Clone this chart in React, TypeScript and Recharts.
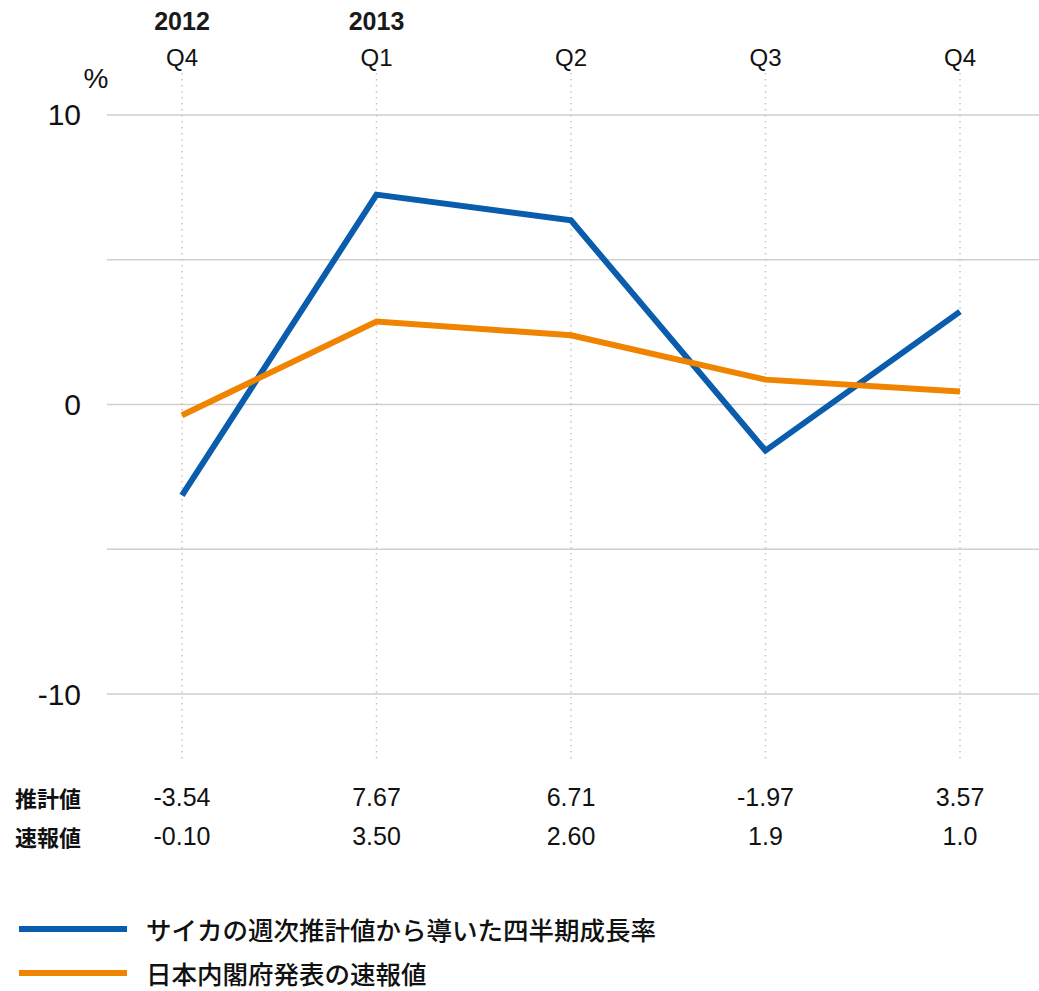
import { LineChart, Line, XAxis, YAxis, ReferenceLine, Legend } from 'recharts'

const periods = ['2012Q4', '2013Q1', '2013Q2', '2013Q3', '2013Q4']
const years = ['2012', '2013', '', '', '']
const quarters = ['Q4', 'Q1', 'Q2', 'Q3', 'Q4']

// values as plotted on the chart (%)
const saikaWeekly = [-3.14, 7.25, 6.36, -1.59, 3.21]
const cabinetPrelim = [-0.37, 2.87, 2.39, 0.86, 0.45]

// values printed in the table under the chart
const estimateLabels = ['-3.54', '7.67', '6.71', '-1.97', '3.57']
const prelimLabels = ['-0.10', '3.50', '2.60', '1.9', '1.0']

const yTicks = [-10, -5, 0, 5, 10]

const BLUE = '#0a5cad'
const ORANGE = '#f08300'
const FONT = '"Liberation Sans", Arial, "Noto Sans CJK JP", sans-serif'
const JP_FONT = '"Noto Sans CJK JP", "Liberation Sans", sans-serif'

const data = periods.map((p, i) => ({
  period: p,
  saika: saikaWeekly[i],
  cabinet: cabinetPrelim[i],
}))

const seriesNames = [
  { name: 'サイカの週次推計値から導いた四半期成長率', color: BLUE },
  { name: '日本内閣府発表の速報値', color: ORANGE },
]

function TopTick({ x, y, index }: any) {
  return (
    <g>
      <text x={x} y={y - 52} textAnchor="middle" dominantBaseline="central" fontSize={25} fontWeight={700} fill="#1a1a1a" fontFamily={FONT}>
        {years[index]}
      </text>
      <text x={x} y={y - 16} textAnchor="middle" dominantBaseline="central" fontSize={24} fill="#111" fontFamily={FONT}>
        {quarters[index]}
      </text>
    </g>
  )
}

function TableTick({ x, y, index }: any) {
  return (
    <g>
      {index === 0 && (
        <>
          <text x={15} y={y + 34} dominantBaseline="central" fontSize={22} fontWeight={700} fill="#111" fontFamily={JP_FONT}>推計値</text>
          <text x={15} y={y + 73} dominantBaseline="central" fontSize={22} fontWeight={700} fill="#111" fontFamily={JP_FONT}>速報値</text>
        </>
      )}
      <text x={x} y={y + 34} textAnchor="middle" dominantBaseline="central" fontSize={25} fill="#111" fontFamily={FONT}>
        {estimateLabels[index]}
      </text>
      <text x={x} y={y + 73} textAnchor="middle" dominantBaseline="central" fontSize={25} fill="#111" fontFamily={FONT}>
        {prelimLabels[index]}
      </text>
    </g>
  )
}

function YTick({ y, payload }: any) {
  if (payload.value % 10 !== 0) return null
  return (
    <text x={81} y={y} textAnchor="end" dominantBaseline="central" fontSize={30} fill="#111" fontFamily={FONT}>
      {payload.value}
    </text>
  )
}

function LegendBox() {
  return (
    <div style={{ height: 100, position: 'relative', fontFamily: JP_FONT }}>
      {seriesNames.map((s, i) => (
        <div key={s.name} style={{ position: 'absolute', left: 19, top: 38 + i * 44 - 13, height: 26, display: 'flex', alignItems: 'center' }}>
          <div style={{ width: 108, height: 6, background: s.color }} />
          <span style={{ marginLeft: 19, fontSize: 25.5, fontWeight: 500, color: '#111', lineHeight: '26px' }}>{s.name}</span>
        </div>
      ))}
    </div>
  )
}

export default function App() {
  return (
    <div style={{ position: 'absolute', left: 0, top: 0, background: '#fff' }}>
      <LineChart width={1039} height={991} data={data} margin={{ top: 0, right: 0, bottom: 0, left: 0 }}>
        <XAxis
          dataKey="period"
          orientation="top"
          height={73}
          axisLine={false}
          tickLine={false}
          tickSize={0}
          tickMargin={0}
          padding={{ left: 75, right: 79 }}
          tick={<TopTick />}
          interval={0}
        />
        <XAxis
          xAxisId="bottom"
          dataKey="period"
          orientation="bottom"
          height={128}
          axisLine={false}
          tickLine={false}
          tickSize={0}
          tickMargin={0}
          padding={{ left: 75, right: 79 }}
          tick={<TableTick />}
          interval={0}
        />
        <YAxis
          type="number"
          domain={[-12.38, 11.45]}
          ticks={yTicks}
          width={107}
          axisLine={false}
          tickLine={false}
          tick={<YTick />}
          label={{
            content: () => (
              <text x={96} y={78} textAnchor="middle" dominantBaseline="central" fontSize={28} fill="#111" fontFamily={FONT}>%</text>
            ),
          }}
        />
        {yTicks.map((t) => (
          <ReferenceLine key={'h' + t} y={t} stroke="#cfcfcf" strokeWidth={1.5} />
        ))}
        {periods.map((p) => (
          <ReferenceLine key={'v' + p} x={p} stroke="#c4c4c4" strokeWidth={1.5} strokeDasharray="1.5 4.5" />
        ))}
        <Legend verticalAlign="bottom" align="left" content={() => <LegendBox />} wrapperStyle={{ left: 0, width: 1039 }} />
        <Line dataKey="saika" name={seriesNames[0].name} stroke={BLUE} strokeWidth={6} dot={false} activeDot={false} isAnimationActive={false} />
        <Line dataKey="cabinet" name={seriesNames[1].name} stroke={ORANGE} strokeWidth={6} dot={false} activeDot={false} isAnimationActive={false} />
      </LineChart>
    </div>
  )
}
